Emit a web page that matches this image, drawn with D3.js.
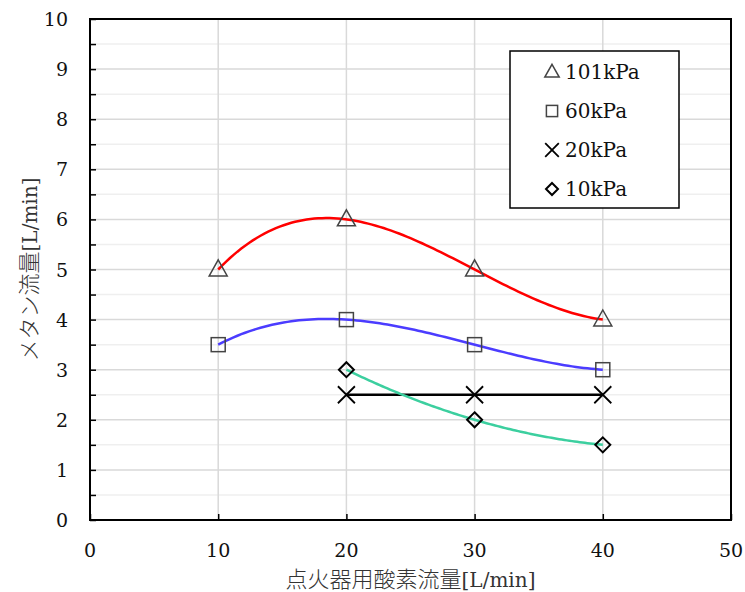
<!DOCTYPE html>
<html>
<head>
<meta charset="utf-8">
<script src="https://cdn.jsdelivr.net/npm/d3@7"></script>
<style>
  body { margin: 0; background: #fff; }
  svg { display: block; }
</style>
</head>
<body>
<svg></svg>
<script>
// data
const oxygenFlow = [10, 20, 30, 40];
const p101 = [5, 6, 5, 4];
const p60 = [3.5, 4, 3.5, 3];
const p20x = [20, 30, 40];
const p20 = [2.5, 2.5, 2.5];
const p10x = [20, 30, 40];
const p10 = [3, 2, 1.5];
const legendLabels = ["101kPa", "60kPa", "20kPa", "10kPa"];
const xTicks = [0, 10, 20, 30, 40, 50];
const yTicks = [0, 1, 2, 3, 4, 5, 6, 7, 8, 9, 10];

const SERIF = "'DejaVu Serif', 'Liberation Serif', serif";
const JP = "'Noto Sans CJK JP', 'Noto Sans', sans-serif";

const width = 745, height = 592;
const margin = { left: 90, right: 14, top: 19, bottom: 72 };

const svg = d3.select("svg").attr("width", width).attr("height", height);

const x = d3.scaleLinear().domain([0, 50]).range([margin.left, width - margin.right]);
const y = d3.scaleLinear().domain([0, 10]).range([height - margin.bottom, margin.top]);

// minor grid (half steps)
const minorY = d3.range(0.5, 10, 1);
svg.append("g").selectAll("line").data(minorY).join("line")
  .attr("x1", x(0)).attr("x2", x(50))
  .attr("y1", d => y(d)).attr("y2", d => y(d))
  .attr("stroke", "#efefef").attr("stroke-width", 1.5);

// major grid
svg.append("g").selectAll("line").data(yTicks.slice(1, -1)).join("line")
  .attr("x1", x(0)).attr("x2", x(50))
  .attr("y1", d => y(d)).attr("y2", d => y(d))
  .attr("stroke", "#d9d9d9").attr("stroke-width", 1.5);
svg.append("g").selectAll("line").data(xTicks.slice(1, -1)).join("line")
  .attr("y1", y(0)).attr("y2", y(10))
  .attr("x1", d => x(d)).attr("x2", d => x(d))
  .attr("stroke", "#d9d9d9").attr("stroke-width", 1.5);

// axes with inward ticks
const yAxis = d3.axisLeft(y).tickValues(d3.range(0, 10.01, 0.5)).tickSize(-6).tickFormat("");
svg.append("g").attr("transform", `translate(${x(0)},0)`).call(yAxis)
  .call(g => g.select(".domain").remove())
  .call(g => g.selectAll("line").attr("stroke", "#000").attr("stroke-width", 1.5));

const xAxis = d3.axisBottom(x).tickValues(xTicks).tickSize(-6).tickFormat("");
svg.append("g").attr("transform", `translate(0,${y(0)})`).call(xAxis)
  .call(g => g.select(".domain").remove())
  .call(g => g.selectAll("line").attr("stroke", "#000").attr("stroke-width", 1.5));

// frame
svg.append("rect")
  .attr("x", x(0)).attr("y", y(10))
  .attr("width", x(50) - x(0)).attr("height", y(0) - y(10))
  .attr("fill", "none").attr("stroke", "#000").attr("stroke-width", 2);

// tick labels
svg.append("g").selectAll("text").data(yTicks).join("text")
  .attr("font-family", SERIF)
  .attr("x", 68).attr("y", d => y(d) + 7)
  .attr("text-anchor", "end")
  .attr("font-size", 19).attr("fill", "#111")
  .text(d => d);
svg.append("g").selectAll("text").data(xTicks).join("text")
  .attr("font-family", SERIF)
  .attr("x", d => x(d)).attr("y", 557)
  .attr("text-anchor", "middle")
  .attr("font-size", 19).attr("fill", "#111")
  .text(d => d);

// axis titles
function title(sel) {
  sel.append("tspan").attr("font-family", JP).attr("font-size", 22).attr("font-weight", 300)
    .text(sel.datum().jp);
  sel.append("tspan").attr("font-family", SERIF).attr("font-size", 20)
    .text("[L/min]");
}
svg.append("text").datum({ jp: "点火器用酸素流量" })
  .attr("x", x(25)).attr("y", 587)
  .attr("text-anchor", "middle").attr("fill", "#333")
  .call(title);
svg.append("text").datum({ jp: "メタン流量" })
  .attr("transform", `translate(37,${y(5)}) rotate(-90)`)
  .attr("text-anchor", "middle").attr("fill", "#333")
  .call(title);

// polynomial trendline through the points (exact fit, order = n-1)
function polyFit(xs, ys) {
  return t => d3.sum(xs, (xi, i) => {
    let w = ys[i];
    xs.forEach((xj, j) => { if (j !== i) w *= (t - xj) / (xi - xj); });
    return w;
  });
}

const line = d3.line().x(d => x(d[0])).y(d => y(d[1]));

const series = [
  { xs: oxygenFlow, ys: p101, color: "#ff0000", marker: "tri" },
  { xs: oxygenFlow, ys: p60, color: "#4b3cff", marker: "sq" },
  { xs: p20x, ys: p20, color: "#000000", marker: "x" },
  { xs: p10x, ys: p10, color: "#3ccf9f", marker: "dia" }
];

series.forEach(s => {
  const f = polyFit(s.xs, s.ys);
  const lo = d3.min(s.xs), hi = d3.max(s.xs);
  const pts = d3.range(0, 101).map(i => {
    const t = lo + (hi - lo) * i / 100;
    return [t, f(t)];
  });
  svg.append("path")
    .attr("d", line(pts))
    .attr("fill", "none")
    .attr("stroke", s.color)
    .attr("stroke-width", 2.5);
});

function drawMarker(g, type, cx, cy, k) {
  if (type === "tri") {
    const h = 16 * k, w = 18 * k;
    g.append("path")
      .attr("d", `M${cx},${cy - h * 0.6}L${cx + w / 2},${cy + h * 0.4}L${cx - w / 2},${cy + h * 0.4}Z`)
      .attr("fill", "none").attr("stroke", "#444").attr("stroke-width", 1.5);
  } else if (type === "sq") {
    const s = 14 * k;
    g.append("rect")
      .attr("x", cx - s / 2).attr("y", cy - s / 2).attr("width", s).attr("height", s)
      .attr("fill", "none").attr("stroke", "#444").attr("stroke-width", 1.5);
  } else if (type === "x") {
    const s = 8.5 * k;
    g.append("path")
      .attr("d", `M${cx - s},${cy - s}L${cx + s},${cy + s}M${cx - s},${cy + s}L${cx + s},${cy - s}`)
      .attr("stroke", "#000").attr("stroke-width", 1.8);
  } else if (type === "dia") {
    const s = 7.5 * k;
    g.append("path")
      .attr("d", `M${cx},${cy - s}L${cx + s},${cy}L${cx},${cy + s}L${cx - s},${cy}Z`)
      .attr("fill", "none").attr("stroke", "#000").attr("stroke-width", 2);
  }
}

const markers = svg.append("g");
series.forEach(s => {
  s.xs.forEach((v, i) => drawMarker(markers, s.marker, x(v), y(s.ys[i]), 1));
});

// legend
const lg = svg.append("g");
lg.append("rect")
  .attr("x", 510).attr("y", 51).attr("width", 169).attr("height", 157)
  .attr("fill", "#fff").attr("stroke", "#000").attr("stroke-width", 1.5);
const legendY = [72, 111, 150, 189];
legendLabels.forEach((lab, i) => {
  drawMarker(lg, series[i].marker, 552, legendY[i], 0.8);
  lg.append("text")
    .attr("font-family", SERIF)
    .attr("x", 565).attr("y", legendY[i] + 7)
    .attr("font-size", 20).attr("fill", "#111")
    .text(lab);
});
</script>
</body>
</html>
